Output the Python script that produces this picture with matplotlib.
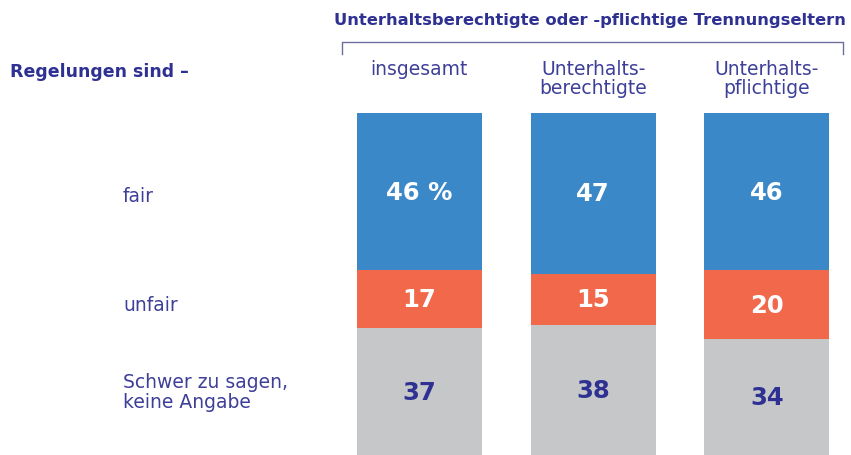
import matplotlib.pyplot as plt
from matplotlib import transforms
import numpy as np

groups = ['insgesamt', 'Unterhalts-\nberechtigte', 'Unterhalts-\npflichtige']
answers = ['fair', 'unfair', 'Schwer zu sagen,\nkeine Angabe']
fair = np.array([46, 47, 46])
unfair = np.array([17, 15, 20])
unsure = np.array([37, 38, 34])

header = 'Unterhaltsberechtigte oder -pflichtige Trennungseltern'
row_title = 'Regelungen sind \u2013'

blue = '#3a88c8'
orange = '#f2684a'
grey = '#c6c7c9'
navy = '#2e3192'
label_col = '#3d3f98'

W, H = 851, 456


def main():
    fig = plt.figure(figsize=(W / 100, H / 100), dpi=100)
    ax = fig.add_axes([332.6 / W, 0, 521.0 / W, 342.0 / H])

    ind = np.arange(len(groups))
    width = 0.72
    series = [fair, unfair, unsure]
    colors = [blue, orange, grey]
    bottom = np.zeros(len(groups))
    for vals, col in zip(series, colors):
        ax.bar(ind, vals, width, bottom=bottom, color=col, linewidth=0)
        bottom = bottom + vals

    ax.set_xlim(-0.5, 2.5)
    ax.set_ylim(100, 0)
    ax.axis('off')

    # values centred in each segment
    bottom = np.zeros(len(groups))
    for k, (vals, col) in enumerate(zip(series, colors)):
        for i, v in enumerate(vals):
            txt = '%d %%' % v if (i == 0 and k == 0) else '%d' % v
            tc = navy if col == grey else 'white'
            ax.text(ind[i], bottom[i] + v / 2.0, txt, ha='center', va='center',
                    fontsize=17.5, fontweight='bold', color=tc)
        bottom = bottom + vals

    # row labels, aligned to segments of the first bar
    trans = transforms.blended_transform_factory(fig.transFigure, ax.transData)
    mids = [fair[0] / 2.0 + 1, fair[0] + unfair[0] / 2.0 + 1.5,
            fair[0] + unfair[0] + unsure[0] / 2.0]
    for lab, m in zip(answers, mids):
        ax.text(123.0 / W, m, lab, transform=trans, ha='left', va='center',
                fontsize=13.5, color=label_col, linespacing=1.05)

    # column labels
    transx = transforms.blended_transform_factory(ax.transData, fig.transFigure)
    for i, g in enumerate(groups):
        ax.text(ind[i], 1 - 60.0 / H, g, transform=transx, ha='center', va='top',
                fontsize=13.5, color=label_col, linespacing=1.0)

    fig.text(10.0 / W, 1 - 72.0 / H, row_title, ha='left', va='center',
             fontsize=12.5, fontweight='bold', color=navy)
    fig.text(590.0 / W, 1 - 20.0 / H, header, ha='center', va='center',
             fontsize=11.8, fontweight='bold', color=navy)

    # bracket over the columns
    bx = [342.0 / W, 342.0 / W, 843.0 / W, 843.0 / W]
    by = [1 - 55.0 / H, 1 - 43.0 / H, 1 - 43.0 / H, 1 - 55.0 / H]
    fig.add_artist(plt.Line2D(bx, by, color='#6b6f9e', linewidth=1.0))

    fig.savefig('out.png', dpi=100)
    plt.close()


if __name__ == '__main__':
    main()
